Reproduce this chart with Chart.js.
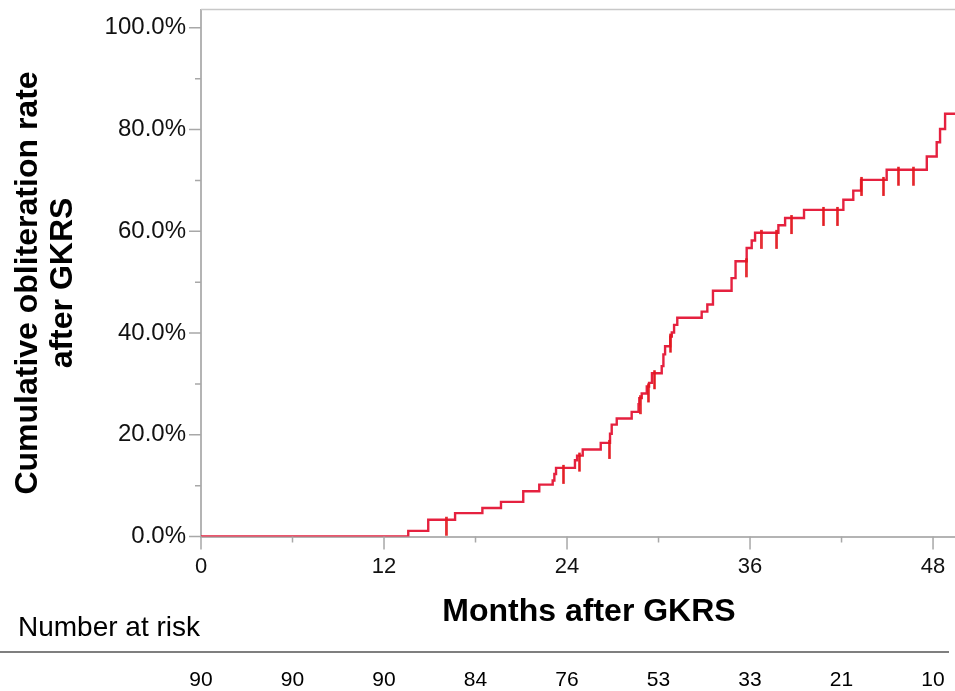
<!DOCTYPE html>
<html>
<head>
<meta charset="utf-8">
<script src="https://cdn.jsdelivr.net/npm/chart.js@4.4.1/dist/chart.umd.min.js"></script>
<style>
  html, body { margin: 0; padding: 0; background: #fff; overflow: hidden; }
  #wrap { width: 955px; height: 691px; }
</style>
</head>
<body>
<div id="wrap"><canvas id="chart" width="955" height="691"></canvas></div>
<script>
// Kaplan-Meier style cumulative obliteration after GKRS
// Months at which obliteration events raise the curve, and the cumulative rate (%) after each
const eventMonths = [13.59, 14.90, 16.66, 18.45, 19.67, 21.13, 22.18, 23.06, 23.17, 23.28,
  24.52, 24.66, 25.03, 26.21, 26.82, 26.93, 27.26, 28.24, 28.69, 28.74,
  28.90, 29.23, 29.38, 29.57, 30.21, 30.32, 30.43, 30.77, 30.87, 31.02,
  31.23, 32.83, 33.20, 33.57, 34.79, 35.05, 35.78, 36.11, 36.33, 37.86,
  38.30, 39.54, 42.12, 42.77, 43.28, 44.96, 47.59, 48.24, 48.46, 48.79];
const cumulativePct = [1.1, 3.3, 4.6, 5.6, 6.8, 8.9, 10.2, 11.0, 12.3, 13.5,
  15.0, 15.9, 17.1, 18.4, 20.2, 22.0, 23.2, 24.5, 26.0, 27.2,
  28.1, 29.5, 30.2, 32.1, 33.5, 35.8, 37.4, 39.3, 40.1, 41.6,
  43.0, 44.2, 45.6, 48.3, 50.8, 54.1, 56.7, 58.2, 59.7, 61.2,
  62.6, 64.2, 66.2, 68.0, 70.1, 72.1, 74.7, 77.5, 80.1, 83.1];
// Censored observations (months)
const censorMonths = [16.07, 23.76, 24.81, 26.77, 28.79, 29.33, 29.74, 30.78, 35.74,
  36.72, 37.75, 38.73, 40.81, 41.72, 43.32, 44.74, 45.72, 46.70];
const followUpEnd = 50;

// Axis ticks
const xMajorTicks = [0, 12, 24, 36, 48];
const xMinorTicks = [6, 18, 30, 42];
const yMajorTicks = [0, 20, 40, 60, 80, 100];
const yMinorTicks = [10, 30, 50, 70, 90];

// Number-at-risk table
const riskMonths = [0, 6, 12, 18, 24, 30, 36, 42, 48];
const numberAtRisk = [90, 90, 90, 84, 76, 53, 33, 21, 10];

const FONT = "'Liberation Sans', Arial, Helvetica, sans-serif";

function levelAt(t) {
  let v = 0;
  for (let i = 0; i < eventMonths.length; i++) if (eventMonths[i] <= t) v = cumulativePct[i];
  return v;
}

const curvePoints = [{ x: 0, y: 0 }]
  .concat(eventMonths.map((m, i) => ({ x: m, y: cumulativePct[i] })))
  .concat([{ x: followUpEnd, y: cumulativePct[cumulativePct.length - 1] }]);
const censorPoints = censorMonths.map(m => ({ x: m, y: levelAt(m) }));

// Censor mark: short vertical bar that mostly hangs below the curve
const censorMark = document.createElement('canvas');
censorMark.width = 3;
censorMark.height = 40;
(function () {
  const g = censorMark.getContext('2d');
  g.fillStyle = '#e3191f';
  g.fillRect(0.25, 17, 2.5, 19);
})();

const decorations = {
  id: 'decorations',
  afterDraw(chart) {
    const { ctx, chartArea: a, scales: { x, y } } = chart;
    ctx.save();

    // top frame line
    ctx.strokeStyle = '#c8c8c8';
    ctx.lineWidth = 1.5;
    ctx.beginPath();
    ctx.moveTo(a.left, a.top);
    ctx.lineTo(a.right, a.top);
    ctx.stroke();

    // tick marks
    ctx.strokeStyle = '#a8a8a8';
    ctx.lineWidth = 1.5;
    ctx.beginPath();
    yMajorTicks.forEach(v => { const p = y.getPixelForValue(v); ctx.moveTo(a.left - 12, p); ctx.lineTo(a.left, p); });
    yMinorTicks.forEach(v => { const p = y.getPixelForValue(v); ctx.moveTo(a.left - 6, p); ctx.lineTo(a.left, p); });
    xMajorTicks.forEach(v => { const p = x.getPixelForValue(v); ctx.moveTo(p, a.bottom); ctx.lineTo(p, a.bottom + 13); });
    xMinorTicks.forEach(v => { const p = x.getPixelForValue(v); ctx.moveTo(p, a.bottom); ctx.lineTo(p, a.bottom + 6); });
    ctx.stroke();

    ctx.fillStyle = '#000';
    ctx.textAlign = 'center';
    ctx.textBaseline = 'middle';

    // y-axis title (two lines, rotated)
    ctx.font = 'bold 32px ' + FONT;
    [['Cumulative obliteration rate', 28], ['after GKRS', 63]].forEach(([t, cx]) => {
      ctx.save();
      ctx.translate(cx, 283);
      ctx.rotate(-Math.PI / 2);
      ctx.fillText(t, 0, 0);
      ctx.restore();
    });

    // x-axis title
    ctx.fillText('Months after GKRS', 589, 612);

    // number at risk
    ctx.font = '28px ' + FONT;
    ctx.textAlign = 'left';
    ctx.fillText('Number at risk', 18, 628);

    ctx.strokeStyle = '#555';
    ctx.lineWidth = 1.5;
    ctx.beginPath();
    ctx.moveTo(0, 652);
    ctx.lineTo(949, 652);
    ctx.stroke();

    ctx.font = '21px ' + FONT;
    ctx.textAlign = 'center';
    riskMonths.forEach((m, i) => {
      ctx.fillText(String(numberAtRisk[i]), x.getPixelForValue(m), 680);
    });

    ctx.restore();
  }
};

new Chart(document.getElementById('chart'), {
  type: 'line',
  data: {
    datasets: [
      {
        data: curvePoints,
        stepped: 'before',
        borderColor: '#e5213f',
        borderWidth: 2.4,
        pointRadius: 0,
        fill: false,
        order: 2
      },
      {
        data: censorPoints,
        showLine: false,
        pointStyle: censorMark,
        pointRadius: 3,
        order: 1
      }
    ]
  },
  options: {
    responsive: false,
    animation: false,
    devicePixelRatio: 1,
    layout: { autoPadding: false, padding: { top: 9.5, left: 0, right: 0, bottom: 0 } },
    plugins: { legend: { display: false }, tooltip: { enabled: false } },
    scales: {
      x: {
        type: 'linear',
        min: 0,
        max: 49.44,
        z: 1,
        afterBuildTicks: s => { s.ticks = xMajorTicks.map(v => ({ value: v })); },
        afterFit: s => { s.height = 154.5; s.paddingLeft = 0; s.paddingRight = 0; },
        grid: { display: false },
        border: { display: true, color: '#b4b4b4', width: 2 },
        ticks: { font: { family: FONT, size: 22 }, color: '#111', padding: 9, maxRotation: 0, autoSkip: false }
      },
      y: {
        type: 'linear',
        min: 0,
        max: 103.6,
        afterBuildTicks: s => { s.ticks = yMajorTicks.map(v => ({ value: v })); },
        afterFit: s => { s.width = 201; s.paddingTop = 0; s.paddingBottom = 0; },
        grid: { display: false },
        border: { display: true, color: '#b4b4b4', width: 2 },
        ticks: {
          font: { family: FONT, size: 24 },
          color: '#111',
          padding: 7,
          callback: v => v.toFixed(1) + '%'
        }
      }
    }
  },
  plugins: [decorations]
});
</script>
</body>
</html>
